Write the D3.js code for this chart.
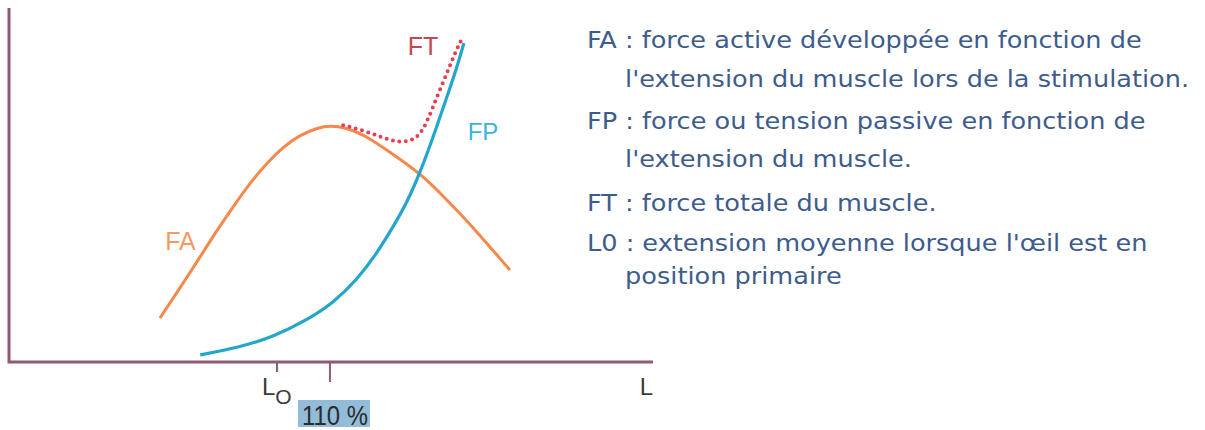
<!DOCTYPE html>
<html>
<head>
<meta charset="utf-8">
<script src="https://cdn.jsdelivr.net/npm/d3@7"></script>
<style>
  body { margin: 0; background: #fff; }
  svg { display: block; }
</style>
</head>
<body>
<div id="chart"></div>
<script>
// longueur en % de L0, force en unités arbitraires
const faLength = [77.9, 82.3, 85.5, 88.7, 91.7, 94.9, 98.1, 101.1, 104.3, 107.6, 110.0, 113.2, 116.6, 121.3, 127.0, 132.1, 137.0, 140.2, 144.0];
const faForce  = [12.4, 22.3, 29.7, 37.3, 43.8, 50.6, 56.2, 60.7, 64.1, 66.1, 66.8, 66.1, 64.1, 59.3, 53.4, 45.8, 38.1, 32.5, 26.0];

const fpLength = [85.5, 93.0, 99.3, 105.7, 110.6, 115.1, 118.9, 121.9, 124.5, 127.0, 129.5, 132.1, 134.0, 135.3];
const fpForce  = [2.0, 4.2, 7.1, 11.9, 16.7, 23.2, 30.8, 38.1, 44.9, 53.4, 63.6, 74.9, 83.3, 90.1];

const ftLength = [112.5, 116.2, 120.0, 123.2, 125.7, 127.2, 128.5, 130.2, 132.1, 133.6, 134.9];
const ftForce  = [66.9, 65.5, 63.3, 61.9, 62.7, 64.7, 68.4, 74.9, 81.6, 87.3, 91.2];

const tickValues = [100, 110];
const tickLabels = ["L", "110 %"];
const axisLabel = "L";

const legendLines = [
    { text: "FA : force active développée en fonction de", indent: false },
    { text: "l'extension du muscle lors de la stimulation.", indent: true },
    { text: "FP : force ou tension passive en fonction de", indent: false },
    { text: "l'extension du muscle.", indent: true },
    { text: "FT : force totale du muscle.", indent: false },
    { text: "L0 : extension moyenne lorsque l'œil est en", indent: false },
    { text: "position primaire", indent: true }
];

const width = 1205, height = 430;

const svg = d3.select("#chart").append("svg")
    .attr("width", width)
    .attr("height", height);

const x = d3.scaleLinear().domain([49.4, 171]).range([9, 653]);
const y = d3.scaleLinear().domain([0, 100]).range([362, 8]);

const axisColor = "#8e5a75";

// axes
svg.append("path")
    .attr("d", `M${x(49.4)},${y(100)}V${y(0)}H${x(171)}`)
    .attr("fill", "none")
    .attr("stroke", axisColor)
    .attr("stroke-width", 3);

// graduations
const tickLen = [10, 20];
tickValues.forEach((v, i) => {
    svg.append("line")
        .attr("x1", x(v)).attr("x2", x(v))
        .attr("y1", y(0)).attr("y2", y(0) + tickLen[i])
        .attr("stroke", axisColor)
        .attr("stroke-width", 2);
});

const labelFont = "'Liberation Sans', Arial, sans-serif";

// L0
const l0 = svg.append("text")
    .attr("x", x(100) - 15)
    .attr("y", 395)
    .attr("font-family", labelFont)
    .attr("font-size", 24)
    .attr("fill", "#3a3a3a");
l0.append("tspan").text(tickLabels[0]);
l0.append("tspan").attr("dy", 9).attr("font-size", 21).text("O");

// 110 %
const boxX = x(110) - 32;
svg.append("rect")
    .attr("x", boxX).attr("y", 400)
    .attr("width", 72).attr("height", 27)
    .attr("fill", "#93bcd9");
svg.append("text")
    .attr("x", boxX + 4)
    .attr("y", 425)
    .attr("font-family", labelFont)
    .attr("font-size", 27)
    .attr("textLength", 66)
    .attr("lengthAdjust", "spacingAndGlyphs")
    .attr("fill", "#2b2b2b")
    .text(tickLabels[1]);

// L
svg.append("text")
    .attr("x", x(171))
    .attr("y", 395)
    .attr("text-anchor", "end")
    .attr("font-family", labelFont)
    .attr("font-size", 24)
    .attr("fill", "#3a3a3a")
    .text(axisLabel);

const line = d3.line()
    .x(d => x(d[0]))
    .y(d => y(d[1]))
    .curve(d3.curveBasis);

// FA
svg.append("path")
    .datum(d3.zip(faLength, faForce))
    .attr("d", line)
    .attr("fill", "none")
    .attr("stroke", "#f5884a")
    .attr("stroke-width", 3);

// FP
svg.append("path")
    .datum(d3.zip(fpLength, fpForce))
    .attr("d", line)
    .attr("fill", "none")
    .attr("stroke", "#22a6cb")
    .attr("stroke-width", 3.2);

// FT (pointillés)
svg.append("path")
    .datum(d3.zip(ftLength, ftForce))
    .attr("d", line)
    .attr("fill", "none")
    .attr("stroke", "#ec3c52")
    .attr("stroke-width", 4)
    .attr("stroke-linecap", "round")
    .attr("stroke-dasharray", "0 6.5");

// étiquettes des courbes
const curveLabels = [
    { text: "FA", at: [78.9, 31.6], size: 25, color: "#f79a62" },
    { text: "FT", at: [124.7, 86.7], size: 25, color: "#c5474f" },
    { text: "FP", at: [136.0, 62.7], size: 24, color: "#3ab4dd" }
];
svg.selectAll("text.curve-label")
    .data(curveLabels)
    .enter()
    .append("text")
    .attr("class", "curve-label")
    .attr("x", d => x(d.at[0]))
    .attr("y", d => y(d.at[1]))
    .attr("font-family", labelFont)
    .attr("font-size", d => d.size)
    .attr("fill", d => d.color)
    .text(d => d.text);

// légende à droite
const legend = svg.append("g")
    .attr("class", "legend");

const lineY = [48, 87, 129, 167, 211, 251, 284];
const texts = legend.selectAll("text")
    .data(legendLines)
    .enter()
    .append("text")
    .attr("x", d => d.indent ? 35 : 0)
    .attr("y", (d, i) => lineY[i])
    .attr("font-family", "'DejaVu Sans', Verdana, sans-serif")
    .attr("font-size", 23.5)
    .attr("fill", "#3d5c8c")
    .text(d => d.text);

// ajuster la largeur à la référence (ligne 1 ≈ 555 px)
const natural = texts.nodes()[0].getComputedTextLength();
const sx = 555 / natural;
legend.attr("transform", `translate(587,0) scale(${sx},1)`);
</script>
</body>
</html>
